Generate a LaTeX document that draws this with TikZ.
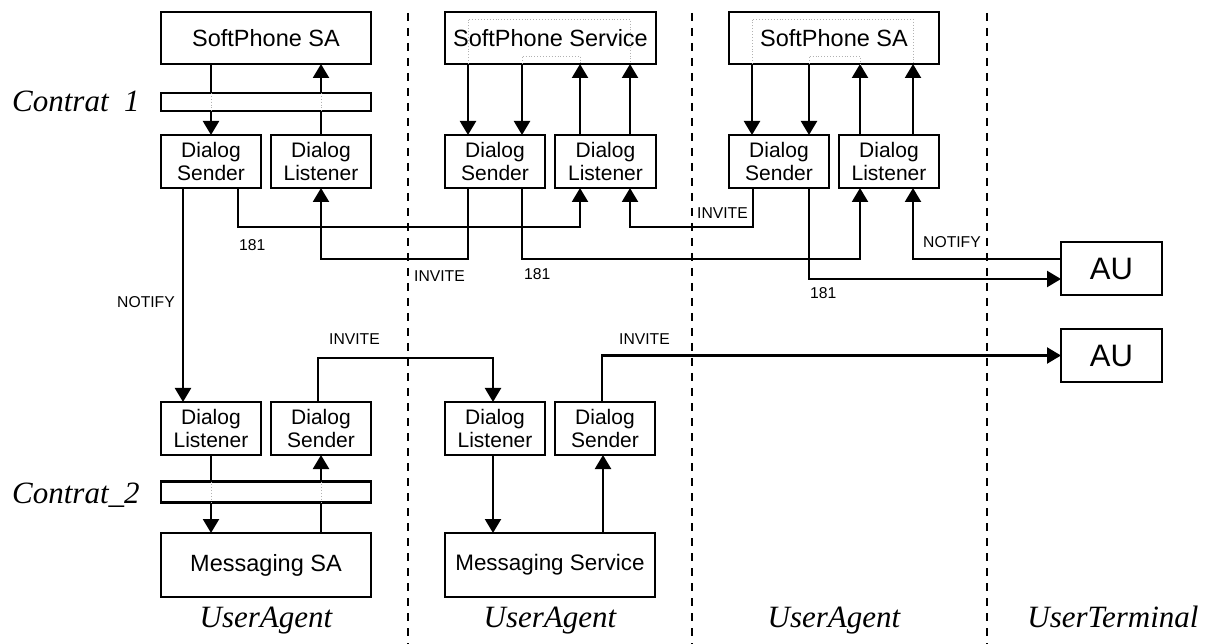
\documentclass[tikz,border=0pt]{standalone}
\usepackage{fontspec}
\setmainfont{Liberation Serif}
\newfontfamily\arialfam{Liberation Sans}
\usetikzlibrary{arrows.meta,calc}
\newcommand\boxfont{\arialfam\fontsize{21}{23.5}\selectfont}
\newcommand\bigfont{\arialfam\fontsize{23.5}{26}\selectfont}
\newcommand\msgfont{\arialfam\fontsize{22.4}{26}\selectfont}
\newcommand\aufont{\arialfam\fontsize{31}{34}\selectfont}
\newcommand\lblfont{\arialfam\fontsize{15.7}{18}\selectfont}
\newcommand\italfont{\itshape\fontsize{31}{34}\selectfont}
\tikzset{
  box/.style={draw, line width=2.2pt, rectangle, inner sep=0pt, outer sep=0pt, align=center, font=\boxfont},
  bigbox/.style={box, font=\bigfont},
  dbox/.style={box, minimum width=100pt, minimum height=53pt},
  arr/.style={line width=2.2pt, -{Triangle[length=14pt,width=16pt]}},
  lbl/.style={font=\lblfont, inner sep=0pt},
  ital/.style={font=\italfont, inner sep=0pt},
  dotg/.style={draw=black!30, dotted, line width=0.9pt},
  sepline/.style={dash pattern=on 8pt off 7pt, line width=2pt},
}
\begin{document}
\begin{tikzpicture}[x=1pt,y=-1pt]
\useasboundingbox (0,0) rectangle (1208,644);

% separators
\coordinate (s1t) at (408,13); \coordinate (s1b) at (408,644);
\coordinate (s2t) at (692,13); \coordinate (s2b) at (692,644);
\coordinate (s3t) at (987,13); \coordinate (s3b) at (987,644);
\draw[sepline] (s1t) -- (s1b);
\draw[sepline] (s2t) -- (s2b);
\draw[sepline] (s3t) -- (s3b);

% top boxes
\node[bigbox, minimum width=210pt, minimum height=52pt] (spL) at (266,38) {SoftPhone SA};
\node[dbox] (dsL) at (211,161.5) {Dialog\\Sender};
\node[dbox] (dlL) at (321,161.5) {Dialog\\Listener};

\node[bigbox, minimum width=211pt, minimum height=52pt] (spM) at (550.5,38) {SoftPhone Service};
\node[dbox] (dsM) at (495,161.5) {Dialog\\Sender};
\node[dbox, minimum width=101pt] (dlM) at (605.5,161.5) {Dialog\\Listener};

\node[bigbox, minimum width=210pt, minimum height=52pt] (spR) at (834,38) {SoftPhone SA};
\node[dbox] (dsR) at (779,161.5) {Dialog\\Sender};
\node[dbox] (dlR) at (889,161.5) {Dialog\\Listener};

\node[box, font=\aufont, minimum width=101pt, minimum height=53pt] (au1) at (1111.5,268.5) {AU};
\node[box, font=\aufont, minimum width=101pt, minimum height=53pt] (au2) at (1111.5,355.5) {AU};

% bottom boxes
\node[dbox] (dl2L) at (211,428.5) {Dialog\\Listener};
\node[dbox] (ds2L) at (321,428.5) {Dialog\\Sender};
\node[bigbox, minimum width=210pt, minimum height=64pt] (msgSA) at (266,565) {Messaging SA};

\node[dbox] (dl2M) at (495,428.5) {Dialog\\Listener};
\node[dbox] (ds2M) at (605,428.5) {Dialog\\Sender};
\node[box, font=\msgfont, minimum width=210pt, minimum height=64pt] (msgSvc) at (550,565) {Messaging Service};

% top vertical arrows
\draw[arr] (dsL.north |- spL.south) -- (dsL.north);
\draw[arr] (dlL.north) -- (dlL.north |- spL.south);

\draw[arr] ($(dsM.north west |- spM.south)+(23,0)$) -- ($(dsM.north west)+(23,0)$);
\draw[arr] ($(dsM.north east |- spM.south)+(-23,0)$) -- ($(dsM.north east)+(-23,0)$);
\draw[arr] ($(dlM.north west)+(25,0)$) -- ($(dlM.north west |- spM.south)+(25,0)$);
\draw[arr] ($(dlM.north east)+(-26,0)$) -- ($(dlM.north east |- spM.south)+(-26,0)$);

\draw[arr] ($(dsR.north west |- spR.south)+(23,0)$) -- ($(dsR.north west)+(23,0)$);
\draw[arr] ($(dsR.north east |- spR.south)+(-20,0)$) -- ($(dsR.north east)+(-20,0)$);
\draw[arr] ($(dlR.north west)+(21,0)$) -- ($(dlR.north west |- spR.south)+(21,0)$);
\draw[arr] ($(dlR.north east)+(-26,0)$) -- ($(dlR.north east |- spR.south)+(-26,0)$);

% dotted internal links in service boxes
\draw[dotg] (468,64) -- (468,19) -- (630,19) -- (630,64);
\draw[dotg] (522,64) -- (522,56) -- (580,56) -- (580,64);
\draw[dotg] (752,64) -- (752,19) -- (913,19) -- (913,64);
\draw[dotg] (809,64) -- (809,56) -- (860,56) -- (860,64);

% contract bar 1
\node[box, fill=white, minimum width=210pt, minimum height=18pt] (bar1) at (266,102) {};
\draw[dotg] (dsL.north |- bar1.north) -- (dsL.north |- bar1.south);
\draw[dotg] (dlL.north |- bar1.north) -- (dlL.north |- bar1.south);

% horizontal connectors between top boxes
\draw[arr] ($(dsL.south west)+(77,0)$) -- ++(0,39) -| ($(dlM.south west)+(25,0)$);
\draw[arr] ($(dsM.south west)+(23,0)$) -- ++(0,71) -| (dlL.south);
\draw[arr] ($(dsM.south east)+(-23,0)$) -- ++(0,71) -| ($(dlR.south west)+(21,0)$);
\draw[arr] ($(dsR.south west)+(24,0)$) -- ++(0,39) -| ($(dlM.south east)+(-26,0)$);
\draw[arr] ($(dsR.south east)+(-20,0)$) |- ($(au1.west)+(0,10.5)$);
\draw[arr] ($(au1.west)+(0,-9.5)$) -| ($(dlR.south east)+(-26,0)$);

\node[lbl, anchor=west] (l181a) at (239,245) {181};
\node[lbl, anchor=west] (linva) at (414,276) {INVITE};
\node[lbl, anchor=west] (l181b) at (524,274) {181};
\node[lbl, anchor=west] (linvb) at (697,213) {INVITE};
\node[lbl, anchor=west] (l181c) at (810,293) {181};
\node[lbl, anchor=west] (lnota) at (923,242) {NOTIFY};

% NOTIFY down
\draw[arr] ($(dsL.south west)+(22,0)$) -- ($(dl2L.north west)+(22,0)$);
\node[lbl, anchor=east] (lnotb) at (175,302) {NOTIFY};

% bottom INVITEs
\draw[arr] ($(ds2L.north east)+(-53,0)$) -- ++(0,-44) -| ($(dl2M.north)+(-2,0)$);
\draw[arr] ($(ds2M.north east)+(-53,0)$) |- (au2.west);
\node[lbl, anchor=west] (linvc) at (329,339) {INVITE};
\node[lbl, anchor=west] (linvd) at (619,339) {INVITE};

% bottom vertical arrows
\draw[arr] (dl2L.south) -- (dl2L.south |- msgSA.north);
\draw[arr] (ds2L.south |- msgSA.north) -- (ds2L.south);
\draw[arr] ($(dl2M.south)+(-2,0)$) -- ($(dl2M.south |- msgSvc.north)+(-2,0)$);
\draw[arr] ($(ds2M.south |- msgSvc.north)+(-2,0)$) -- ($(ds2M.south)+(-2,0)$);

% contract bar 2
\node[box, fill=white, minimum width=210pt, minimum height=21pt] (bar2) at (266,492) {};
\draw[dotg] (dl2L.south |- bar2.north) -- (dl2L.south |- bar2.south);
\draw[dotg] (ds2L.south |- bar2.north) -- (ds2L.south |- bar2.south);

% italic labels
\node[ital, anchor=base west] (c1) at (12,112) {Contrat\phantom{\_}1};
\node[ital, anchor=base west] (c2) at (12,503) {Contrat\_2};
\node[ital, anchor=base] (ua1) at (266,627) {UserAgent};
\node[ital, anchor=base] (ua2) at (550,627) {UserAgent};
\node[ital, anchor=base] (ua3) at (834,627) {UserAgent};
\node[ital, anchor=base] (ut) at (1113,627) {UserTerminal};
\end{tikzpicture}
\end{document}
